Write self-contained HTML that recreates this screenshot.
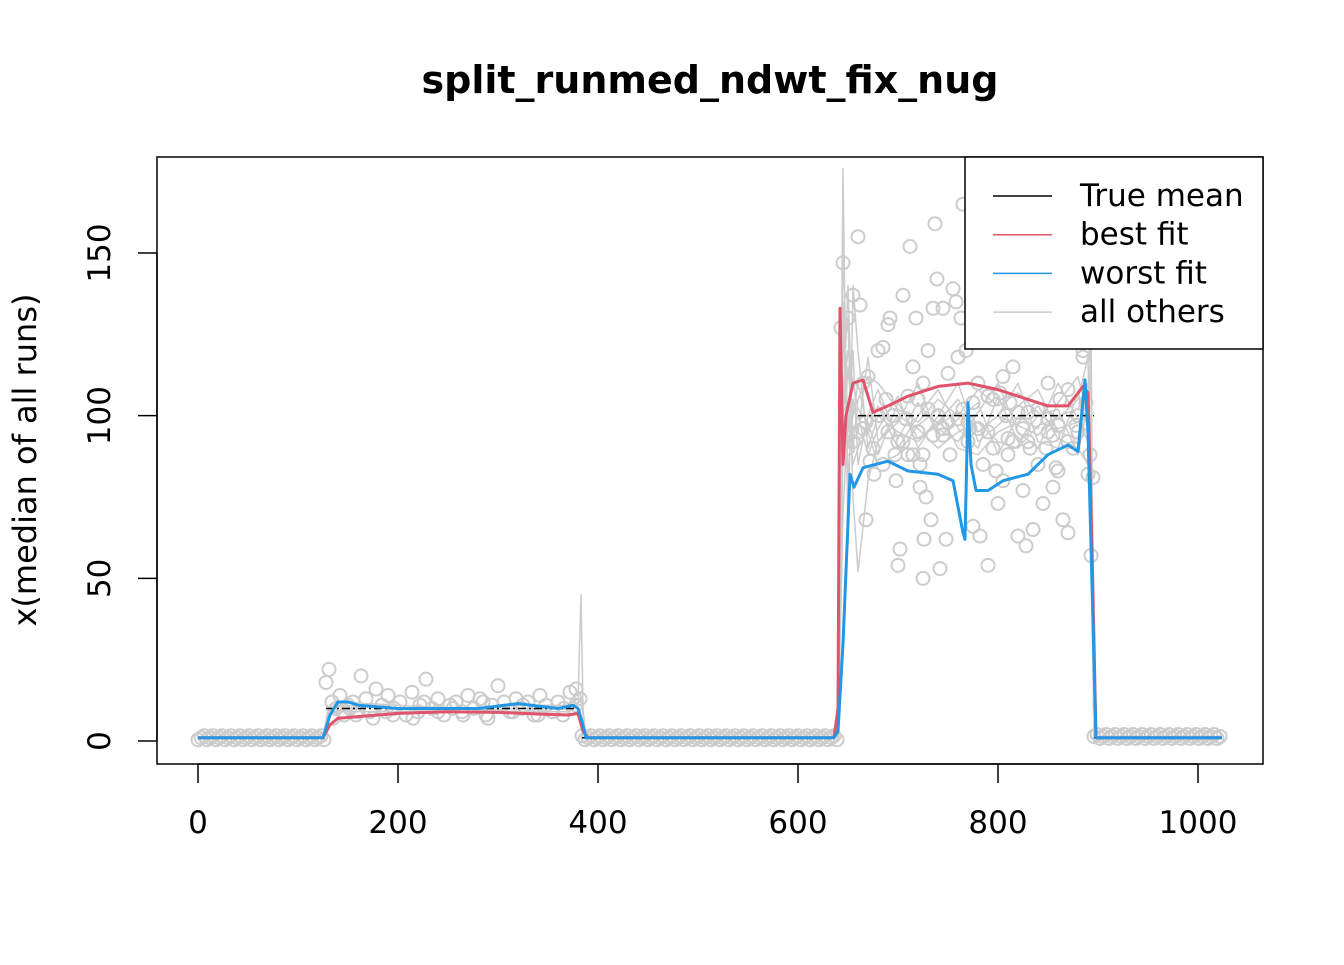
<!DOCTYPE html>
<html><head><meta charset="utf-8"><style>
body{margin:0;background:#fff;}
svg text{font-family:"DejaVu Sans","Liberation Sans",sans-serif;}
</style></head><body>
<svg id="chart" width="1344" height="960" viewBox="0 0 1344 960">
<rect width="1344" height="960" fill="#fff"/>
<text x="710" y="93" text-anchor="middle" font-size="38" font-weight="bold">split_runmed_ndwt_fix_nug</text>
<text transform="translate(36,460) rotate(-90)" text-anchor="middle" font-size="32">x(median of all runs)</text>
<defs><clipPath id="pc"><rect x="157" y="157" width="1106" height="607"/></clipPath></defs>
<g id="plot" clip-path="url(#pc)"></g>
<rect x="157" y="157" width="1106" height="607" fill="none" stroke="#000" stroke-width="1.5"/>
<g id="axes"></g>
<g id="legend">
<rect x="965" y="157" width="298" height="192" fill="#fff" stroke="#000" stroke-width="1.5"/>
</g>
</svg>
<script>
const xTicks=[0,200,400,600,800,1000];
const yTicks=[0,50,100,150];
const trueStart=[0,128,384,660,896];
const trueEnd=[128,384,640,896,1024];
const trueLevel=[1,10,1,100,1];
const bestX=[0,125,132,140,160,200,250,300,340,370,380,385,390,636,640,642,645,648,655,665,675,690,710,740,770,800,830,850,870,885,890,894,898,1024];
const bestY=[1,1,5,7,7.5,8.5,9,8.8,8.3,8,8.5,3,1,1,10,133,85,100,110,111,101,103,106,109,110,108,105,103,103,109,107,60,1,1];
const worstX=[0,125,132,140,150,160,200,280,320,360,375,380,384,388,636,640,645,652,656,665,690,710,740,755,765,767,770,773,778,790,805,830,850,870,880,887,890,893,898,1024];
const worstY=[1,1,8,12,12,11,10,10,11.5,10,11,10,6,1,1,3,30,82,78,84,86,83,82,80,64,62,104,85,77,77,80,82,88,91,89,111,95,60,1,1];
const grayLineX=[640,645,650,655,660,670,680,700,720,740,760,780,800,820,840,860,880,890,893,896];
const grayLine1=[1,176,60,140,120,90,100,95,92,98,105,95,100,97,94,100,102,110,80,1];
const grayLine2=[1,155,90,100,110,95,85,88,97,102,90,88,95,98,103,93,90,85,130,1];
const grayLine3=[1,120,130,75,52,80,92,100,96,90,95,98,92,90,97,99,105,118,70,1];
const grayLine4=[1,100,140,90,105,112,110,102,98,105,100,108,103,107,101,96,98,95,60,1];
const grayLine5=[1,110,95,120,85,100,108,93,104,96,92,101,110,95,90,104,112,100,120,1];
const grayLine6=[1,90,115,95,100,88,96,106,90,100,110,92,97,103,108,95,93,108,90,1];
const grayLine7=[1,135,80,105,95,118,92,98,110,93,99,104,88,100,96,110,99,92,100,1];
const grayLine8=[1,70,100,85,90,96,103,90,100,108,96,90,106,92,100,102,88,104,110,1];
const grayLine9=[1,105,120,110,102,98,88,104,93,97,101,95,100,110,92,90,107,96,85,1];
const midLineX=[125,130,140,200,260,320,370,380,383,385,388];
const midLine1=[1,9,11,10,9,10,10,12,45,10,1];
const midLine2=[1,8,9,9,10,9,9,11,14,8,1];
const midLine3=[1,10,12,11,10,11,11,13,12,9,1];
const highPtsX=[643,645,648,650,655,660,662,665,668,670,675,680,685,690,692,697,700,702,705,708,710,712,715,718,720,722,725,726,728,730,733,735,737,739,740,742,745,748,750,755,758,760,763,765,768,770,775,780,782,785,790,795,798,800,805,808,812,815,820,825,828,830,835,840,845,850,855,860,862,865,870,875,880,885,890,893,892,895,660,680,700,720,750,780,810,840,860,688,710,735,765,795,825,848,870,676,725,805,655,668,690,715,745,775,815,850,880,695,730,760,790,820,855,885,650,665,685,705,725,745,770,790,810,830,850,870,888,672,698,722,752,772,802,832,858,878];
const highPtsY=[127,147,100,130,137,155,134,110,68,112,90,120,121,128,130,88,54,59,137,99,106,152,115,130,95,85,50,62,75,120,68,133,159,142,100,53,133,62,113,139,135,118,130,165,120,92,66,96,63,85,54,90,83,73,80,100,104,115,63,77,60,92,65,85,73,110,78,83,105,68,64,90,100,118,82,57,88,81,95,100,92,105,98,110,93,102,97,105,88,94,102,105,96,90,108,82,110,112,92,98,95,88,96,104,92,99,95,100,102,99,95,101,94,120,90,96,85,92,88,94,98,106,88,101,95,92,104,86,80,78,88,96,107,90,84,97];
const midPtsX=[128,131,134,138,142,146,150,155,160,163,168,172,178,184,190,196,202,208,214,220,226,228,234,240,246,252,258,264,270,276,282,288,294,300,306,312,318,324,330,336,342,348,354,360,366,372,378,382,135,145,158,175,195,215,240,265,290,315,340,365,152,188,222,255,285,325,355,378];
const midPtsY=[18,22,12,10,14,8,11,12,9,20,13,9,16,11,14,10,12,8,15,9,12,19,10,13,8,11,12,9,14,10,13,8,11,17,12,9,13,10,12,8,14,11,9,12,10,15,11,13,7,9,8,7,8,7,9,8,7,9,8,8,10,9,11,10,12,11,9,16];
const lowSegStart=[0,384,896];
const lowSegEnd=[128,640,1024];
const lowLevel=[1,1,1];

const X0=198,SX=1.0,Y0=741,SY=488/150;
const xs=v=>X0+v*SX, ys=v=>Y0-v*SY;
const NS='http://www.w3.org/2000/svg';
const plot=document.getElementById('plot'),axes=document.getElementById('axes'),legend=document.getElementById('legend');
function mk(tag,attrs,parent){const e=document.createElementNS(NS,tag);for(const k in attrs)e.setAttribute(k,attrs[k]);parent.appendChild(e);return e;}
function poly(xa,ya,color,w,name,dash){const p=mk('polyline',{points:xa.map((x,i)=>xs(x)+','+ys(ya[i])).join(' '),fill:'none',stroke:color,'stroke-width':w,'stroke-linejoin':'round'},plot);if(dash)p.setAttribute('stroke-dasharray',dash);

return p;}
function pt(x,y){const c=mk('circle',{cx:xs(x),cy:ys(y),r:6.5,fill:'none',stroke:'#cccccc','stroke-width':2},plot);

}
lowSegStart.forEach((s,k)=>{for(let x=s;x<=lowSegEnd[k];x+=3){pt(x,lowLevel[k]+((x/3)%3-1)*0.6);}});
midPtsX.forEach((x,i)=>pt(x,midPtsY[i]));
highPtsX.forEach((x,i)=>pt(x,highPtsY[i]));
[grayLine1,grayLine2,grayLine3,grayLine4,grayLine5,grayLine6,grayLine7,grayLine8,grayLine9].forEach(l=>poly(grayLineX,l,'#cccccc',1.5,'other-run-line'));
[midLine1,midLine2,midLine3].forEach(l=>poly(midLineX,l,'#cccccc',1.5,'other-run-line'));
trueStart.forEach((s,i)=>poly([s,trueEnd[i]],[trueLevel[i],trueLevel[i]],'#000',1.5,'true-mean-line','8 3 2 3'));
poly(bestX,bestY,'#df536b',3,'best-fit-line');
poly(worstX,worstY,'#2297e6',3,'worst-fit-line');
mk('line',{x1:xs(0),x2:xs(1000),y1:764,y2:764,stroke:'#000','stroke-width':1.5},axes);
xTicks.forEach(t=>{mk('line',{x1:xs(t),x2:xs(t),y1:764,y2:783,stroke:'#000','stroke-width':1.5},axes);
const tx=mk('text',{x:xs(t),y:833,'text-anchor':'middle','font-size':31},axes);tx.textContent=t;

});
mk('line',{x1:157,x2:157,y1:ys(0),y2:ys(150),stroke:'#000','stroke-width':1.5},axes);
yTicks.forEach(t=>{mk('line',{x1:138,x2:157,y1:ys(t),y2:ys(t),stroke:'#000','stroke-width':1.5},axes);
const tx=mk('text',{transform:`translate(110,${ys(t)}) rotate(-90)`,'text-anchor':'middle','font-size':31},axes);tx.textContent=t;

});
const legNames=['True mean','best fit','worst fit','all others'];
const legColors=['#000','#df536b','#2297e6','#cccccc'];
legNames.forEach((n,i)=>{const y=196+i*38.7;
mk('line',{x1:993,x2:1052,y1:y,y2:y,stroke:legColors[i],'stroke-width':1.5},legend);
const tx=mk('text',{x:1080,y:y+10,'font-size':31},legend);tx.textContent=n;

});
</script>
</body></html>
